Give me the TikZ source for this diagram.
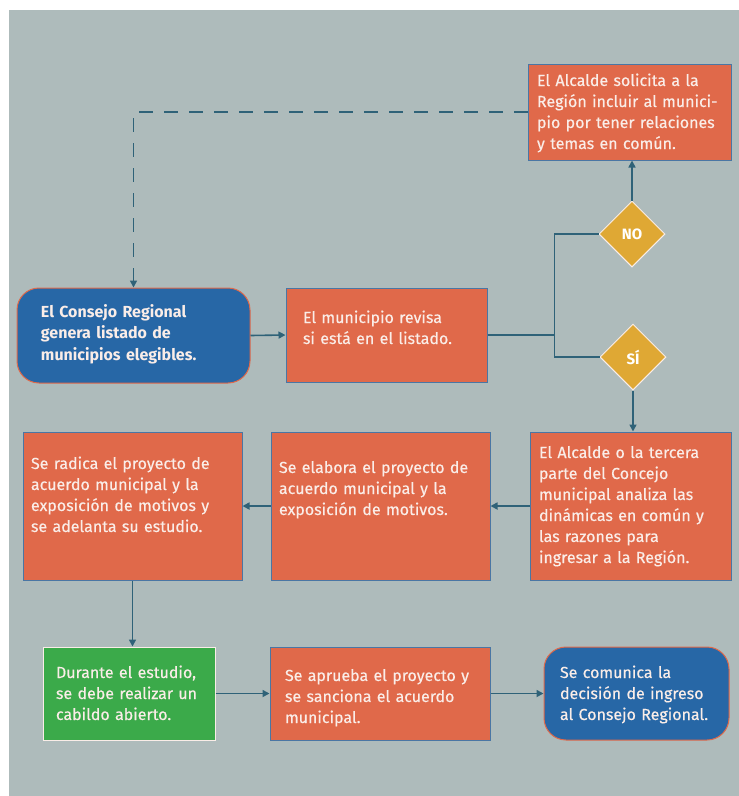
\documentclass[tikz,border=0pt]{standalone}
\usepackage{fontspec}
\setmainfont{Fira Sans}[UprightFeatures={FakeBold=0.4}]
\usetikzlibrary{arrows.meta, positioning, shapes.geometric, calc}
\definecolor{cbg}{HTML}{AEBBBB}
\definecolor{corange}{HTML}{E0694A}
\definecolor{cblue}{HTML}{2767A6}
\definecolor{cgold}{HTML}{DFA834}
\definecolor{cgreen}{HTML}{3BAA4A}
\definecolor{cline}{HTML}{2F6278}
\definecolor{cedge}{HTML}{4A76A4}
\definecolor{ctext}{HTML}{FAEDE8}
\tikzset{
  box/.style={draw=cedge, fill=corange, line width=1pt, text=ctext, align=left, inner ysep=0pt, text height=12pt, font=\fontsize{16}{21}\selectfont},
  roundbox/.style={box, draw=corange, fill=cblue, rounded corners=22pt},
  greenbox/.style={box, draw=ctext, fill=cgreen},
  decision/.style={diamond, draw=ctext, fill=cgold, line width=1pt, text=white, font=\bfseries\fontsize{15}{16}\selectfont, minimum width=66pt, minimum height=66pt, inner sep=0pt},
  arrow/.style={-{Triangle[length=7pt, width=7pt]}, draw=cline, line width=1.6pt},
  link/.style={draw=cline, line width=1.6pt},
}

\begin{document}
\begin{tikzpicture}[x=1pt, y=-1pt]
  \useasboundingbox (0,0) rectangle (739,796);
  \fill[cbg] (9,10) rectangle (739,796);

  \node[box, text width=185pt, inner xsep=9pt, minimum height=96pt, text depth=64pt] (solicita) at (629.5,112) {El Alcalde solicita a la\\ Región incluir al munici-\\ pio por tener relaciones\\ y temas en común.};
  \node[decision] (no) at (632,234) {NO};
  \node[decision] (si) at (633,357) {SÍ};

  \node[roundbox, font=\bfseries\fontsize{16}{21.5}\selectfont, text width=185pt, inner xsep=24pt, minimum height=95pt, text depth=49pt] (consejo) at (133.5,335.5) {El Consejo Regional\\ genera listado de\\ municipios elegibles.};
  \node[box, text width=167pt, inner xsep=17pt, minimum height=94pt, text depth=36pt] (revisa) at (386.5,335) {El municipio revisa\\ si está en el listado.};

  \node[box, text width=183pt, inner xsep=9pt, minimum height=148pt, text depth=108pt] (tercera) at (630.5,506) {El Alcalde o la tercera\\ parte del Concejo\\ municipal analiza las\\ dinámicas en común y\\ las razones para\\ ingresar a la Región.};
  \node[box, text width=203pt, inner xsep=8pt, minimum height=148pt, text depth=78pt] (elabora) at (380.5,506) {Se elabora el proyecto de\\ acuerdo municipal y la\\ exposición de motivos.};
  \node[box, text width=203pt, inner xsep=8pt, minimum height=148pt, text depth=86pt] (radica) at (132.5,506) {Se radica el proyecto de\\ acuerdo municipal y la\\ exposición de motivos y\\ se adelanta su estudio.};

  \node[greenbox, text width=146pt, inner xsep=13pt, minimum height=93pt, text depth=43pt] (estudio) at (129,693.5) {Durante el estudio,\\ se debe realizar un\\ cabildo abierto.};
  \node[box, text width=190pt, inner xsep=15pt, minimum height=93pt, text depth=37pt] (aprueba) at (380,693.5) {Se aprueba el proyecto y\\ se sanciona el acuerdo\\ municipal.};
  \node[roundbox, text width=153pt, inner xsep=16pt, minimum height=93pt, text depth=43pt] (comunica) at (636.5,693.5) {Se comunica la\\ decisión de ingreso\\ al Consejo Regional.};

  \draw[arrow, dash pattern=on 14pt off 11pt] (solicita.west) -| (consejo.north);
  \draw[arrow] (consejo.east) -- (revisa.west);
  \draw[link] (revisa.east) -- ++(67,0) coordinate (split);
  \draw[link] (no.west) -| (split) |- (si.west);
  \draw[arrow] (no.north) -- (no.north |- solicita.south);
  \draw[arrow] (si.south) -- (si.south |- tercera.north);
  \draw[arrow] (tercera.west) -- (elabora.east);
  \draw[arrow] (elabora.west) -- (radica.east);
  \draw[arrow] (radica.south) -- (radica.south |- estudio.north);
  \draw[arrow] (estudio.east) -- (aprueba.west);
  \draw[arrow] (aprueba.east) -- (comunica.west);
\end{tikzpicture}
\end{document}
